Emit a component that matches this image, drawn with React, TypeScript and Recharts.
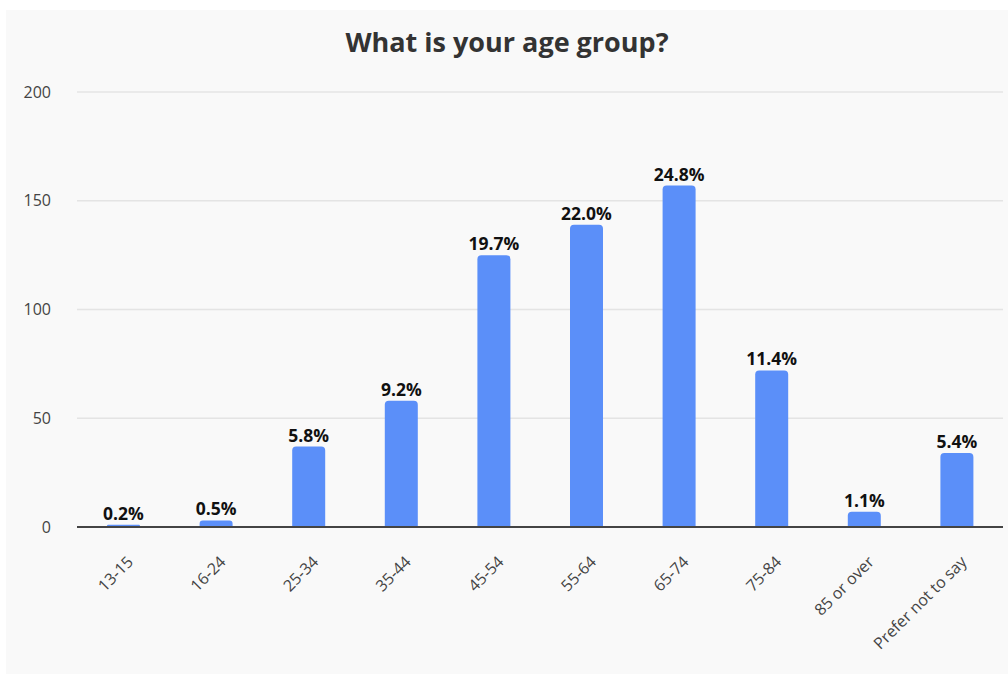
import React from 'react';
import { BarChart, Bar, XAxis, YAxis, CartesianGrid, LabelList } from 'recharts';

const ageGroups = ['13-15', '16-24', '25-34', '35-44', '45-54', '55-64', '65-74', '75-84', '85 or over', 'Prefer not to say'];
const respondents = [1, 3, 37, 58, 125, 139, 157, 72, 7, 34];
const yTicks = [0, 50, 100, 150, 200];

const total = respondents.reduce((a, b) => a + b, 0);
const data = ageGroups.map((group, i) => ({ group, count: respondents[i] }));

const FONT = '"Open Sans", "Noto Sans", sans-serif';

const AngledTick = (props: any) => {
  const { x, y, payload } = props;
  return (
    <g transform={`translate(${x + 3},${y + 20})`}>
      <text
        x={0}
        y={0}
        dy="0.7em"
        textAnchor="end"
        transform="rotate(-45)"
        fill="#444"
        fontSize={16}
        fontFamily={FONT}
      >
        {payload.value}
      </text>
    </g>
  );
};

const App: React.FC = () => {
  return (
    <div
      style={{
        position: 'absolute',
        left: 0,
        top: 0,
        width: 1008,
        height: 675,
        background: '#FFFFFF',
        fontFamily: FONT
      }}
    >
      <div
        style={{
          position: 'absolute',
          left: 6,
          top: 10,
          width: 1002,
          height: 664,
          background: '#F9F9F9'
        }}
      >
        <div
          style={{
            position: 'absolute',
            top: 13,
            left: 0,
            width: 1002,
            textAlign: 'center',
            fontSize: 27,
            fontWeight: 700,
            color: '#333333'
          }}
        >
          What is your age group?
        </div>
        <BarChart
          width={1002}
          height={664}
          data={data}
          margin={{ top: 82, right: 5, left: 0, bottom: 0 }}
          style={{ position: 'absolute', left: 0, top: 0 }}
        >
          <CartesianGrid vertical={false} stroke="#E4E4E4" strokeWidth={1.5} />
          <YAxis
            width={71}
            domain={[0, 200]}
            ticks={yTicks}
            axisLine={false}
            tickLine={false}
            tickMargin={20}
            tick={{ fill: '#444', fontSize: 16, fontFamily: FONT }}
          />
          <XAxis
            dataKey="group"
            interval={0}
            height={147}
            tickLine={false}
            axisLine={{ stroke: '#444', strokeWidth: 2 }}
            tick={<AngledTick />}
          />
          <Bar
            dataKey="count"
            fill="#5B8FF9"
            barSize={33}
            radius={[4, 4, 0, 0]}
            isAnimationActive={false}
          >
            <LabelList
              dataKey="count"
              position="top"
              offset={5}
              formatter={(v: any) => `${((Number(v) / total) * 100).toFixed(1)}%`}
              style={{ fill: '#111', fontSize: 17.5, fontWeight: 700, fontFamily: FONT }}
            />
          </Bar>
        </BarChart>
      </div>
    </div>
  );
};

export default App;
